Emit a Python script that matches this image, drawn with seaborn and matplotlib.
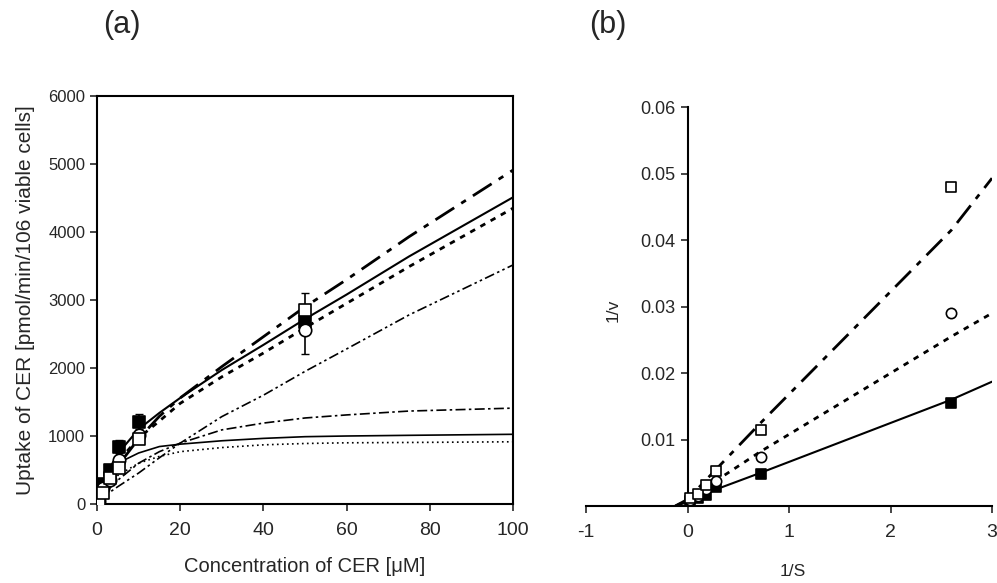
import numpy as np
import pandas as pd
import seaborn as sns
import matplotlib.pyplot as plt

# ---- panel (a): uptake vs concentration ----
conc_pts = [0.4, 1.4, 3.2, 5.2, 10, 50]
uptake_filled = [280, 300, 500, 843, 1210, 2680]
uptake_circle = [50, 230, 350, 650, 1015, 2560]
uptake_square = [50, 160, 380, 525, 960, 2850]
err_filled = [0, 0, 0, 100, 110, 150]
err_circle = [0, 0, 0, 0, 0, 350]
err_square = [0, 0, 0, 0, 0, 250]

conc_fit = [0, 1, 3, 5, 10, 15, 20, 30, 40, 50, 60, 75, 100]
total_solid = [50, 260, 520, 740, 1100, 1340, 1560, 1970, 2340, 2720, 3080, 3640, 4510]
total_dashdot = [50, 170, 380, 560, 960, 1290, 1560, 2020, 2460, 2900, 3300, 3930, 4910]
total_dotted = [50, 200, 420, 620, 970, 1220, 1480, 1870, 2220, 2590, 2950, 3490, 4350]
passive_dashdotdot = [0, 60, 170, 255, 455, 680, 895, 1285, 1600, 1950, 2280, 2780, 3515]
sat_dashdot = [0, 90, 230, 350, 600, 770, 895, 1090, 1190, 1265, 1310, 1367, 1410]
sat_solid = [0, 220, 450, 600, 750, 845, 880, 930, 965, 990, 1000, 1010, 1025]
sat_dotted = [0, 120, 300, 420, 600, 700, 770, 830, 870, 890, 900, 905, 915]

# ---- panel (b): double reciprocal ----
inv_s = [0.02, 0.1, 0.18, 0.28, 0.72, 2.6]
inv_v_filled = [0.0008, 0.0012, 0.0017, 0.0028, 0.0048, 0.0155]
inv_v_circle = [0.0009, 0.0015, 0.0025, 0.0038, 0.0073, 0.029]
inv_v_square = [0.0012, 0.0018, 0.0032, 0.0053, 0.0114, 0.048]

inv_s_fit = [-0.12, 0, 0.28, 0.72, 2.6, 3.0]
fit_solid = [0, 0.0006, 0.0025, 0.0050, 0.0160, 0.0187]
fit_dotted = [0, 0.0009, 0.0038, 0.0082, 0.0255, 0.029]
fit_dashdot = [0, 0.0010, 0.0055, 0.0125, 0.0415, 0.0493]

sns.set_style("ticks")
plt.rcParams['font.family'] = ['Liberation Sans', 'DejaVu Sans']

fig = plt.figure(figsize=(9.97, 5.83), dpi=100)
ax_a = fig.add_axes([0.0973, 0.1355, 0.4172, 0.6998])
ax_b = fig.add_axes([0.5878, 0.132, 0.4072, 0.6844])

DASHDOT = (0, (8, 3, 2, 3))
DASHDOTDOT = (0, (6, 2, 1.5, 2, 1.5, 2))
THIN_DASHDOT = (0, (6, 2, 1.5, 2))
SHORTDOT = (0, (2, 2.2))

curves = [
    (total_dashdot, DASHDOT, 2.0),
    (total_solid, '-', 1.5),
    (total_dotted, SHORTDOT, 2.0),
    (passive_dashdotdot, DASHDOTDOT, 1.2),
    (sat_dashdot, THIN_DASHDOT, 1.2),
    (sat_solid, '-', 1.2),
    (sat_dotted, (0, (1, 2)), 1.2),
]
for vals, ls, lw in curves:
    sns.lineplot(x=conc_fit, y=vals, ax=ax_a, color='black', linestyle=ls, lw=lw)

for yv, err, mk, fc in [(uptake_filled, err_filled, 's', 'black'),
                        (uptake_circle, err_circle, 'o', 'white'),
                        (uptake_square, err_square, 's', 'white')]:
    ax_a.errorbar(conc_pts, yv, yerr=err, fmt='none', ecolor='black', elinewidth=1.2, capsize=3)
    sns.scatterplot(x=conc_pts, y=yv, ax=ax_a, marker=mk, s=80, color=fc,
                    edgecolor='black', linewidth=1.2, zorder=5)

ax_a.set_xlim(0, 100)
ax_a.set_ylim(0, 6000)
ax_a.set_xticks(range(0, 101, 20))
ax_a.set_yticks(range(0, 6001, 1000))
ax_a.tick_params(axis='x', labelsize=14, direction='out', length=5, width=1.2, pad=8)
ax_a.tick_params(axis='y', labelsize=12, direction='out', length=5, width=1.2)
for sp in ax_a.spines.values():
    sp.set_linewidth(1.5)
    sp.set_color('black')
ax_a.set_xlabel('Concentration of CER [\u03bcM]', fontsize=14.5)
ax_a.set_ylabel('Uptake of CER [pmol/min/106 viable cells]', fontsize=15)
ax_a.xaxis.set_label_coords(0.5, -0.13)
ax_a.yaxis.set_label_coords(-0.15, 0.5)

# panel (b)
for vals, ls, lw in [(fit_solid, '-', 1.5), (fit_dotted, SHORTDOT, 2.0), (fit_dashdot, DASHDOT, 2.0)]:
    sns.lineplot(x=inv_s_fit, y=vals, ax=ax_b, color='black', linestyle=ls, lw=lw)
for yv, mk, fc in [(inv_v_filled, 's', 'black'), (inv_v_circle, 'o', 'white'), (inv_v_square, 's', 'white')]:
    sns.scatterplot(x=inv_s, y=yv, ax=ax_b, marker=mk, s=55, color=fc,
                    edgecolor='black', linewidth=1.2, zorder=5)

ax_b.set_xlim(-1, 3)
ax_b.set_ylim(0, 0.06)
ax_b.spines['left'].set_position(('data', 0))
ax_b.spines['top'].set_visible(False)
ax_b.spines['right'].set_visible(False)
for sp in ['left', 'bottom']:
    ax_b.spines[sp].set_linewidth(1.5)
    ax_b.spines[sp].set_color('black')
ax_b.set_xticks([-1, 0, 1, 2, 3])
ax_b.set_xticklabels(['-1', '0', '1', '2', '3'])
ax_b.set_yticks([0.01, 0.02, 0.03, 0.04, 0.05, 0.06])
ax_b.set_yticklabels(['0.01', '0.02', '0.03', '0.04', '0.05', '0.06'])
ax_b.tick_params(axis='x', labelsize=14, direction='out', length=5, width=1.2, pad=8)
ax_b.tick_params(axis='y', labelsize=13, direction='out', length=5, width=1.2)
ax_b.set_xlabel('1/S', fontsize=12.5)
ax_b.set_ylabel('1/v', fontsize=12.5)
ax_b.xaxis.set_label_coords(0.51, -0.145)
ax_b.yaxis.set_label_coords(0.085, 0.49)

fig.text(0.1224, 0.957, '(a)', fontsize=22, ha='center', va='center')
fig.text(0.61, 0.957, '(b)', fontsize=22, ha='center', va='center')

fig.savefig('out.png', dpi=100)
